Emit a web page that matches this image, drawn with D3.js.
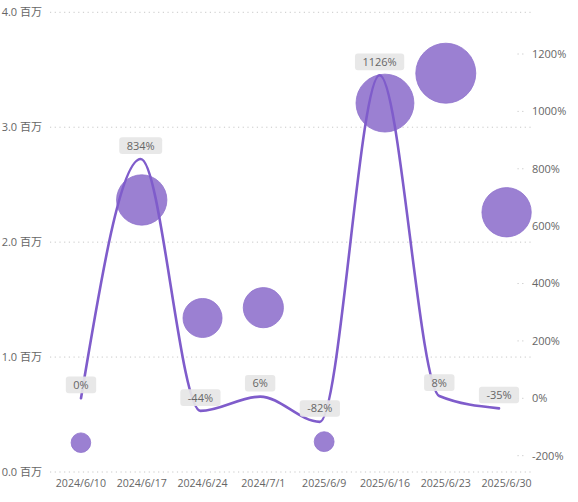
<!DOCTYPE html>
<html><head><meta charset="utf-8">
<script src="https://cdn.jsdelivr.net/npm/d3@7/dist/d3.min.js"></script>
<style>
html,body{margin:0;padding:0;background:#fff;}
svg{display:block;}
text{font-family:"Open Sans","Noto Sans","Noto Sans CJK SC",sans-serif;}
</style></head>
<body>
<svg id="chart" width="578" height="502"></svg>
<script>
const categories = ["2024/6/10","2024/6/17","2024/6/24","2024/7/1","2025/6/9","2025/6/16","2025/6/23","2025/6/30"];
const bubbleValues = [0.255, 2.367, 1.34, 1.43, 0.264, 3.21, 3.47, 2.26];   // 百万
const bubbleSizes  = [0.255, 2.367, 1.34, 1.43, 0.264, 3.21, 3.47, 2.26];
const growthPct    = [0, 834, -44, 6, -82, 1126, 8, -35];
const leftTicks  = [0, 1, 2, 3, 4];
const rightTicks = [-200, 0, 200, 400, 600, 800, 1000, 1200];

const svg = d3.select("#chart");
const textColor = "#666666";

const x = d3.scaleBand().domain(categories).range([50.5, 537]);
const xLine = d3.scalePoint().domain(categories).range([81, 499]);
const yLeft = d3.scaleLinear().domain([0, 4]).range([472, 12.3]);
const yRight = d3.scaleLinear().domain([0, 1200]).range([398.3, 54]);
const r = d3.scaleSqrt().domain([0, d3.max(bubbleSizes)]).range([2.3, 30]);

// left gridlines
svg.append("g").selectAll("line").data(leftTicks).join("line")
  .attr("x1", 50).attr("x2", 533)
  .attr("y1", d => yLeft(d)).attr("y2", d => yLeft(d))
  .attr("stroke", "#c8c8c8").attr("stroke-width", 1)
  .attr("stroke-dasharray", "1.2,3.5");

// left axis labels
svg.append("g").selectAll("text").data(leftTicks).join("text")
  .attr("x", 42).attr("y", d => yLeft(d)).attr("dy", "0.35em")
  .attr("text-anchor", "end").attr("font-size", 11).attr("fill", textColor)
  .text(d => d3.format(".1f")(d) + " 百万");

// right axis tick stubs and labels
svg.append("g").selectAll("line").data(rightTicks).join("line")
  .attr("x1", 517.5).attr("x2", 525)
  .attr("y1", d => yRight(d)).attr("y2", d => yRight(d))
  .attr("stroke", "#c8c8c8").attr("stroke-width", 1)
  .attr("stroke-dasharray", "1.2,3.5");
svg.append("g").selectAll("text").data(rightTicks).join("text")
  .attr("x", 532).attr("y", d => yRight(d)).attr("dy", "0.35em")
  .attr("text-anchor", "start").attr("font-size", 11).attr("fill", textColor)
  .text(d => d + "%");

// x axis labels
svg.append("g").selectAll("text").data(categories).join("text")
  .attr("x", d => x(d) + x.bandwidth() / 2).attr("y", 487)
  .attr("text-anchor", "middle").attr("font-size", 10.6).attr("fill", textColor)
  .text(d => d);

// bubbles
svg.append("g").selectAll("circle").data(categories).join("circle")
  .attr("cx", d => x(d) + x.bandwidth() / 2)
  .attr("cy", (d, i) => yLeft(bubbleValues[i]))
  .attr("r", (d, i) => r(bubbleSizes[i]))
  .attr("fill", "#9b80d2").attr("stroke", "#8f72cd").attr("stroke-width", 0.8);

// line
const lineData = categories.map((c, i) => [xLine(c), yRight(growthPct[i])]);
svg.append("path")
  .attr("d", d3.line().curve(d3.curveMonotoneX)(lineData))
  .attr("fill", "none").attr("stroke", "#7f5ccb").attr("stroke-width", 2.6)
  .attr("stroke-linecap", "round");

// data labels
const lg = svg.append("g");
categories.forEach((c, i) => {
  const cx = xLine(c), cy = yRight(growthPct[i]);
  const g = lg.append("g");
  const rect = g.append("rect");
  const t = g.append("text")
    .attr("x", cx).attr("y", cy - 5 - 8.35).attr("dy", "0.36em")
    .attr("text-anchor", "middle").attr("font-size", 11).attr("fill", textColor)
    .text(growthPct[i] + "%");
  const w = t.node().getComputedTextLength() + 15;
  rect.attr("x", cx - w / 2).attr("y", cy - 5 - 16.7)
    .attr("width", w).attr("height", 16.7).attr("rx", 3)
    .attr("fill", "#e6e6e6").attr("fill-opacity", 0.92);
});
</script>
</body></html>
